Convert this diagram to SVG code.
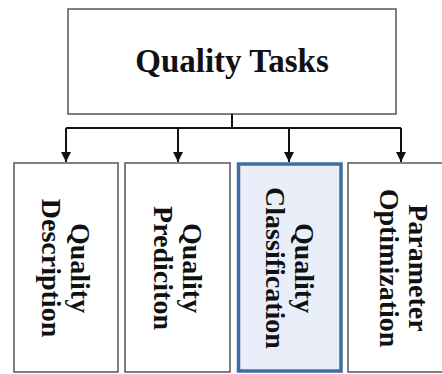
<svg xmlns="http://www.w3.org/2000/svg" width="442" height="374" viewBox="0 0 442 374">
<style>
.box{fill:#fff;stroke:#555;stroke-width:1.5}
.sel{fill:#e9eef8;stroke:#3d6fa3;stroke-width:3.5}
.t{font-family:"Liberation Serif","Times New Roman",serif;font-weight:bold;fill:#111}
.sub{font-size:28px;text-anchor:middle}
.con{stroke:#111;stroke-width:2;fill:none}
</style>
<defs>
<marker id="ah" viewBox="0 0 10 10" refX="10" refY="5" markerWidth="10" markerHeight="10" markerUnits="userSpaceOnUse" orient="auto">
<path d="M0,0 L10,5 L0,10 Z" fill="#111"/>
</marker>
</defs>
<g id="top">
<rect class="box" x="68" y="9" width="328" height="105"/>
<text class="t" x="232" y="72" font-size="33" text-anchor="middle">Quality Tasks</text>
</g>
<g id="connectors">
<line class="con" x1="232" y1="114" x2="232" y2="128"/>
<line class="con" x1="66" y1="128" x2="401" y2="128"/>
<line class="con" x1="66" y1="128" x2="66" y2="162" marker-end="url(#ah)"/>
<line class="con" x1="178" y1="128" x2="178" y2="162" marker-end="url(#ah)"/>
<line class="con" x1="289" y1="128" x2="289" y2="162" marker-end="url(#ah)"/>
<line class="con" x1="401" y1="128" x2="401" y2="162" marker-end="url(#ah)"/>
</g>
<g id="n1">
<rect class="box" x="14" y="163" width="104" height="209"/>
<text class="t sub" transform="translate(71,268) rotate(90)"><tspan x="0" y="0">Quality</tspan><tspan x="0" y="29">Description</tspan></text>
</g>
<g id="n2">
<rect class="box" x="125" y="163" width="105" height="209"/>
<text class="t sub" transform="translate(182.5,268) rotate(90)"><tspan x="0" y="0">Quality</tspan><tspan x="0" y="29">Prediciton</tspan></text>
</g>
<g id="n3">
<rect class="sel" x="238.5" y="164" width="102.5" height="207"/>
<text class="t sub" transform="translate(294.5,268) rotate(90)"><tspan x="0" y="0">Quality</tspan><tspan x="0" y="29">Classification</tspan></text>
</g>
<g id="n4">
<rect class="box" x="348" y="163" width="105" height="209"/>
<text class="t sub" transform="translate(409,268) rotate(90)"><tspan x="0" y="0">Parameter</tspan><tspan x="0" y="29">Optimization</tspan></text>
</g>
</svg>
